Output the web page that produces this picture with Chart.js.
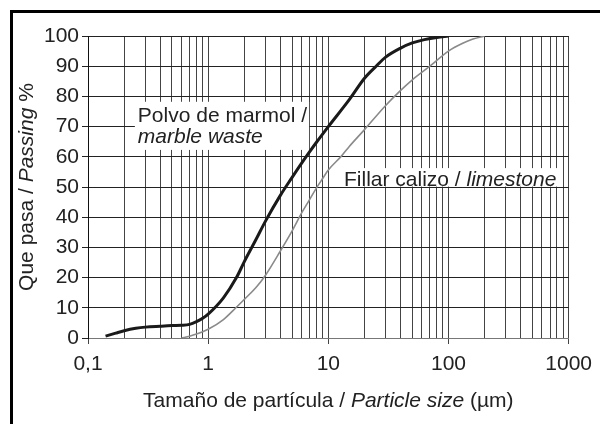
<!DOCTYPE html>
<html>
<head>
<meta charset="utf-8">
<script src="https://cdn.jsdelivr.net/npm/chart.js@4.4.1/dist/chart.umd.min.js"></script>
<style>
  html, body { margin: 0; padding: 0; background: #fff; }
</style>
</head>
<body>
<canvas id="grading" width="600" height="424"></canvas>
<script>
// particle size (µm) vs. % passing
const marbleSize = [0.14, 0.17, 0.2, 0.25, 0.3, 0.4, 0.5, 0.6, 0.7, 0.8, 0.9, 1.0, 1.34, 1.72, 2.0, 2.5, 3.0, 4.0, 5.0, 6.0, 7.0, 8.0, 10, 15, 20, 25, 30, 40, 50, 63, 80, 100];
const marblePass = [0.6, 1.6, 2.4, 3.2, 3.6, 3.9, 4.1, 4.2, 4.5, 5.4, 6.5, 7.9, 13.3, 20, 25.3, 32.6, 38.7, 47.3, 53.2, 57.9, 61.7, 64.9, 70, 79, 86, 90, 93, 96, 97.7, 98.8, 99.5, 100];

const limeSize = [0.6, 0.7, 0.8, 1.0, 1.34, 1.7, 2.0, 2.5, 3.0, 4.0, 5.0, 6.0, 7.0, 8.0, 9.0, 10, 12.9, 15, 20, 30, 40, 50, 70, 100, 130, 160, 200];
const limePass = [0, 0.6, 1.3, 2.9, 6.1, 10, 12.8, 16.7, 20.8, 28.9, 35.5, 41.4, 45.9, 49.8, 52.9, 55.6, 60.3, 63.5, 69, 77, 82, 85.5, 90, 95, 97.5, 99, 100];

const xGridValues = [0.1, 0.2, 0.3, 0.4, 0.5, 0.6, 0.7, 0.8, 0.9,
                     1, 2, 3, 4, 5, 6, 7, 8, 9,
                     10, 20, 30, 40, 50, 60, 70, 80, 90,
                     100, 200, 300, 400, 500, 600, 700, 800, 900, 1000];
const decadeValues = [0.1, 1, 10, 100, 1000];
const decadeLabels = ['0,1', '1', '10', '100', '1000'];

const FONT = '"Liberation Sans", Arial, sans-serif';
const INK = '#222';

function isDecade(v) {
    return decadeValues.some(d => Math.abs(d - v) < 1e-9);
}

// draw a line of text made of regular / italic pieces
function richText(ctx, parts, x, y, size, align) {
    ctx.save();
    ctx.fillStyle = INK;
    ctx.textBaseline = 'alphabetic';
    ctx.textAlign = 'left';
    const total = measureParts(ctx, parts, size);
    let cx = align === 'center' ? x - total / 2 : x;
    parts.forEach(p => {
        ctx.font = (p.it ? 'italic ' : '') + size + 'px ' + FONT;
        ctx.fillText(p.t, cx, y);
        cx += ctx.measureText(p.t).width;
    });
    ctx.restore();
    return total;
}

function measureParts(ctx, parts, size) {
    let total = 0;
    parts.forEach(p => {
        ctx.font = (p.it ? 'italic ' : '') + size + 'px ' + FONT;
        total += ctx.measureText(p.t).width;
    });
    return total;
}

const decorations = {
    id: 'decorations',
    beforeDatasetsDraw(chart) {
        const ctx = chart.ctx;
        const xs = chart.scales.x, ys = chart.scales.y;
        // "Polvo de marmol / marble waste"
        const l1 = [{ t: 'Polvo de marmol /' }];
        const l2 = [{ t: 'marble waste', it: true }];
        let px = xs.getPixelForValue(0.26);
        let b1 = ys.getPixelForValue(71.6), b2 = ys.getPixelForValue(64.6);
        let w = Math.max(measureParts(ctx, l1, 21), measureParts(ctx, l2, 21));
        ctx.fillStyle = '#fff';
        ctx.fillRect(px - 3, b1 - 20, w + 5, b2 - b1 + 27);
        richText(ctx, l1, px, b1, 21, 'left');
        richText(ctx, l2, px, b2, 21, 'left');
        // "Fillar calizo / limestone"
        const l3 = [{ t: 'Fillar calizo / ' }, { t: 'limestone', it: true }];
        px = xs.getPixelForValue(13.5);
        let b3 = ys.getPixelForValue(50.3);
        w = measureParts(ctx, l3, 21);
        ctx.fillStyle = '#fff';
        ctx.fillRect(px - 2, b3 - 18, w + 6, 18.5);
        richText(ctx, l3, px, b3, 21, 'left');
    },
    afterDraw(chart) {
        const ctx = chart.ctx;
        const area = chart.chartArea;
        // outer frame
        ctx.save();
        ctx.strokeStyle = '#000';
        ctx.lineWidth = 3;
        ctx.strokeRect(11.5, 11.5, 640, 460);
        ctx.restore();
        // x title
        richText(ctx, [{ t: 'Tamaño de partícula / ' }, { t: 'Particle size', it: true }, { t: ' (µm)' }],
            (area.left + area.right) / 2, 407, 21, 'center');
        // y title (rotated)
        ctx.save();
        ctx.translate(33, (area.top + area.bottom) / 2);
        ctx.rotate(-Math.PI / 2);
        richText(ctx, [{ t: 'Que pasa / ' }, { t: 'Passing', it: true }, { t: ' %' }], 0, 0, 21, 'center');
        ctx.restore();
    }
};

new Chart(document.getElementById('grading'), {
    type: 'line',
    data: {
        datasets: [{
            label: 'Polvo de marmol / marble waste',
            data: marbleSize.map((s, i) => ({ x: s, y: marblePass[i] })),
            borderColor: '#1a1a1a',
            borderWidth: 3,
            pointRadius: 0,
            cubicInterpolationMode: 'monotone'
        }, {
            label: 'Fillar calizo / limestone',
            data: limeSize.map((s, i) => ({ x: s, y: limePass[i] })),
            borderColor: '#8a8a8a',
            borderWidth: 1.6,
            pointRadius: 0,
            cubicInterpolationMode: 'monotone'
        }]
    },
    options: {
        responsive: false,
        animation: false,
        layout: { padding: { left: 0, top: 36, right: 26, bottom: 0 } },
        scales: {
            x: {
                type: 'logarithmic',
                min: 0.1,
                max: 1000,
                afterBuildTicks: s => { s.ticks = xGridValues.map(v => ({ value: v, major: isDecade(v) })); },
                afterFit: s => { s.height = 86; },
                ticks: {
                    autoSkip: false,
                    maxRotation: 0,
                    padding: 8,
                    color: INK,
                    font: { family: FONT, size: 21 },
                    callback: v => {
                        const i = decadeValues.findIndex(d => Math.abs(d - v) < 1e-9);
                        return i >= 0 ? decadeLabels[i] : '';
                    }
                },
                grid: {
                    color: '#444',
                    lineWidth: 1,
                    tickLength: 6,
                    tickColor: c => (c.tick && isDecade(c.tick.value)) ? '#444' : 'rgba(0,0,0,0)'
                },
                border: { color: '#777', width: 1 }
            },
            y: {
                min: 0,
                max: 100,
                afterFit: s => { s.width = 88; },
                ticks: {
                    stepSize: 10,
                    padding: 3,
                    color: INK,
                    font: { family: FONT, size: 21 }
                },
                grid: { color: '#222', lineWidth: 1, tickLength: 6 },
                border: { color: '#111', width: 1 }
            }
        },
        plugins: {
            legend: { display: false },
            tooltip: { enabled: false }
        }
    },
    plugins: [decorations]
});
</script>
</body>
</html>
